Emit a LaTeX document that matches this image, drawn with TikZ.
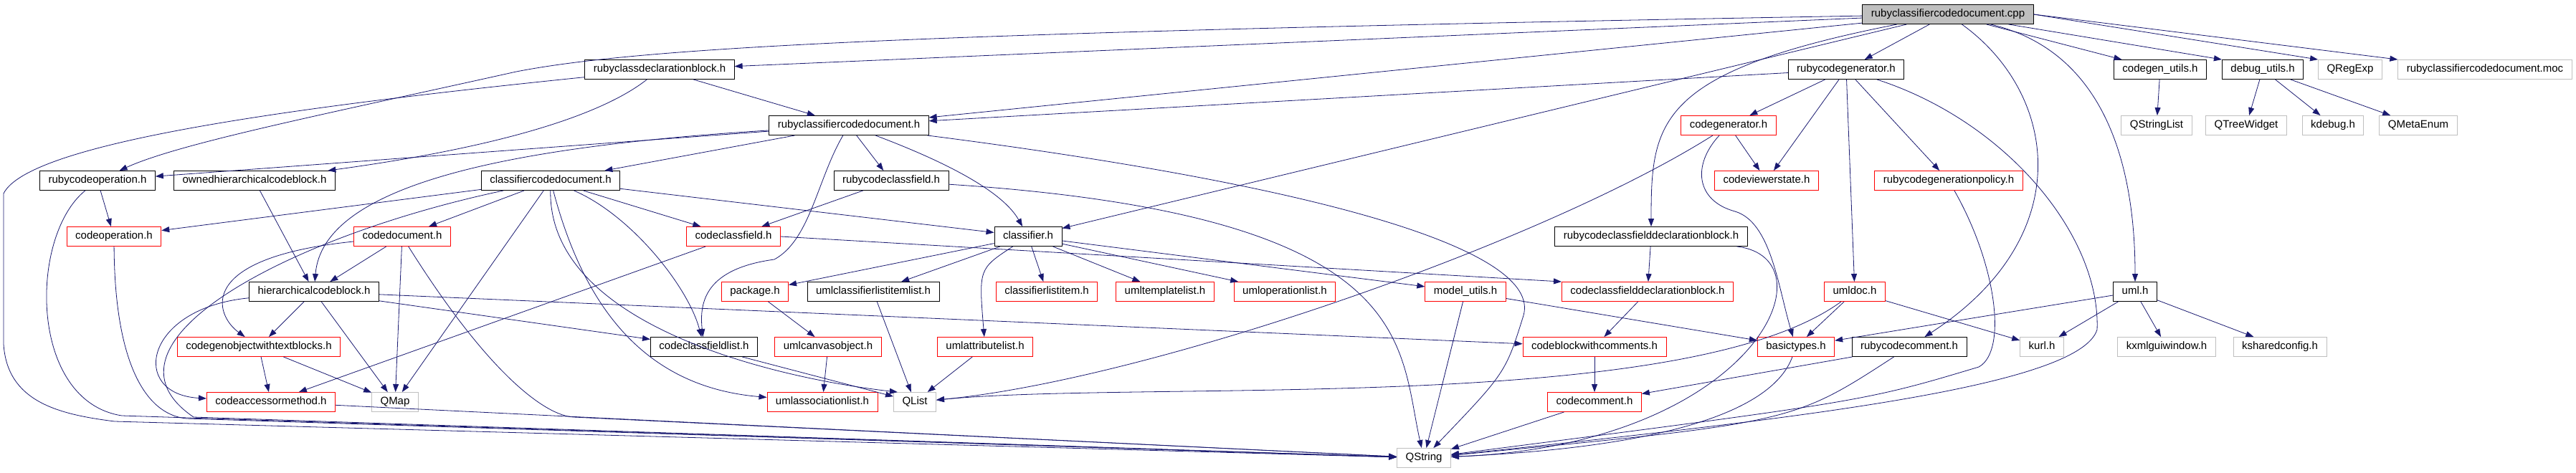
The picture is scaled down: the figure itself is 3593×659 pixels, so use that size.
\documentclass[tikz,border=0pt]{standalone}
\usepackage{fontspec}
\setmainfont{Liberation Sans}
\usepackage{tikz}
\usetikzlibrary{arrows.meta}
\definecolor{incblue}{HTML}{191970}
\definecolor{sysgray}{HTML}{BFBFBF}
\begin{document}
\begin{tikzpicture}[x=1pt,y=1pt,
	hdr/.style={rectangle,draw=black,line width=0.9pt,minimum height=27pt,inner xsep=12pt,inner ysep=2pt,text height=11pt,text depth=3.5pt,font=\fontsize{15}{18}\selectfont},
	hdrtrunc/.style={hdr,draw=red},
	hdrsys/.style={hdr,draw=sysgray},
	hdrroot/.style={hdr,fill=sysgray},
	inc/.style={draw=incblue,line width=0.8pt,-{Triangle[length=11pt,width=8pt]}}]
	\useasboundingbox (0,0) rectangle (3593,-659);
		\node[hdrroot] (cpp) at (2717,-20) {rubyclassifiercodedocument.cpp};
		\node[hdr] (rcdb) at (920,-97) {rubyclassdeclarationblock.h};
		\node[hdr] (rcg) at (2575,-97) {rubycodegenerator.h};
		\node[hdr] (cgu) at (3013,-97) {codegen\_utils.h};
		\node[hdr] (dbu) at (3156,-97) {debug\_utils.h};
		\node[hdrsys] (qre) at (3278,-97) {QRegExp};
		\node[hdrsys] (moc) at (3466,-97) {rubyclassifiercodedocument.moc};
		\node[hdr] (rcdh) at (1184,-175) {rubyclassifiercodedocument.h};
		\node[hdrtrunc] (cgen) at (2411,-175) {codegenerator.h};
		\node[hdrsys] (qsl) at (3008,-175) {QStringList};
		\node[hdrsys] (qtw) at (3133,-175) {QTreeWidget};
		\node[hdrsys] (kdbg) at (3254,-175) {kdebug.h};
		\node[hdrsys] (qme) at (3373,-175) {QMetaEnum};
		\node[hdr] (rco) at (136,-252) {rubycodeoperation.h};
		\node[hdr] (ohcb) at (355,-252) {ownedhierarchicalcodeblock.h};
		\node[hdr] (ccd) at (768,-252) {classifiercodedocument.h};
		\node[hdr] (rccf) at (1243,-252) {rubycodeclassfield.h};
		\node[hdrtrunc] (cvs) at (2464,-252) {codeviewerstate.h};
		\node[hdrtrunc] (rcgp) at (2718,-252) {rubycodegenerationpolicy.h};
		\node[hdrtrunc] (cop) at (159,-330) {codeoperation.h};
		\node[hdrtrunc] (cdoc) at (561,-330) {codedocument.h};
		\node[hdrtrunc] (ccf) at (1023,-330) {codeclassfield.h};
		\node[hdr] (cls) at (1434,-330) {classifier.h};
		\node[hdr] (rccfdb) at (2303,-330) {rubycodeclassfielddeclarationblock.h};
		\node[hdr] (hcb) at (438,-407) {hierarchicalcodeblock.h};
		\node[hdrtrunc] (pkg) at (1053,-407) {package.h};
		\node[hdr] (ucli) at (1218,-407) {umlclassifierlistitemlist.h};
		\node[hdrtrunc] (cli) at (1460,-407) {classifierlistitem.h};
		\node[hdrtrunc] (utl) at (1625,-407) {umltemplatelist.h};
		\node[hdrtrunc] (uol) at (1792,-407) {umloperationlist.h};
		\node[hdrtrunc] (mu) at (2044,-407) {model\_utils.h};
		\node[hdrtrunc] (ccfdb) at (2298,-407) {codeclassfielddeclarationblock.h};
		\node[hdrtrunc] (udoc) at (2587,-407) {umldoc.h};
		\node[hdr] (uml) at (2978,-407) {uml.h};
		\node[hdrtrunc] (cgo) at (361,-484) {codegenobjectwithtextblocks.h};
		\node[hdr] (ccfl) at (982,-484) {codeclassfieldlist.h};
		\node[hdrtrunc] (uco) at (1155,-484) {umlcanvasobject.h};
		\node[hdrtrunc] (ual) at (1374,-484) {umlattributelist.h};
		\node[hdrtrunc] (cbwc) at (2224,-484) {codeblockwithcomments.h};
		\node[hdrtrunc] (bt) at (2505,-484) {basictypes.h};
		\node[hdr] (rcc) at (2663,-484) {rubycodecomment.h};
		\node[hdrsys] (kurl) at (2848,-484) {kurl.h};
		\node[hdrsys] (kxg) at (3022,-484) {kxmlguiwindow.h};
		\node[hdrsys] (ksc) at (3180,-484) {ksharedconfig.h};
		\node[hdrtrunc] (cam) at (378,-561) {codeaccessormethod.h};
		\node[hdrsys] (qmap) at (551,-561) {QMap};
		\node[hdrtrunc] (uasl) at (1147,-561) {umlassociationlist.h};
		\node[hdrsys] (qlist) at (1276,-561) {QList};
		\node[hdrtrunc] (ccom) at (2224,-561) {codecomment.h};
		\node[hdrsys] (qstr) at (1986,-639) {QString};
		\draw[inc] (cpp) -- (rcdb);
		\draw[inc] (cpp) -- (rcdh);
		\draw[inc] (cpp) .. controls (1300,-45) and (900,-65) .. (720,-100) .. controls (450,-160) and (250,-200) .. (rco);
		\draw[inc] (cpp) -- (cls);
		\draw[inc] (cpp) .. controls (2310,-100) and (2303,-170) .. (rccfdb);
		\draw[inc] (cpp) -- (rcg);
		\draw[inc] (cpp) .. controls (2870,-130) and (2900,-330) .. (rcc);
		\draw[inc] (cpp) .. controls (2930,-70) and (2978,-220) .. (uml);
		\draw[inc] (cpp) -- (cgu);
		\draw[inc] (cpp) -- (dbu.north west);
		\draw[inc] (cpp.east) -- (qre.north west);
		\draw[inc] (cpp.east) -- (moc.north west);
		\draw[inc] (rcdb) -- (rcdh);
		\draw[inc] (rcdb) .. controls (840,-160) and (700,-205) .. (ohcb);
		\draw[inc] (rcdb) .. controls (400,-150) and (40,-200) .. (5,-270) -- (5,-480) .. controls (10,-560) and (80,-578) .. (160,-588) -- (qstr);
		\draw[inc] (rcdh) -- (rco);
		\draw[inc] (rcdh) .. controls (700,-205) and (450,-260) .. (hcb);
		\draw[inc] (rcdh) -- (ccd);
		\draw[inc] (rcdh) -- (rccf);
		\draw[inc] (rcdh) .. controls (1330,-230) and (1400,-270) .. (cls);
		\draw[inc] (rcdh) .. controls (1140,-250) and (1130,-335) .. (1080,-362) .. controls (985,-375) and (975,-420) .. (ccfl);
		\draw[inc] (rcdh) .. controls (1850,-260) and (2150,-350) .. (2125,-440) .. controls (2100,-520) .. (qstr);
		\draw[inc] (ccd) -- (cop);
		\draw[inc] (ccd) -- (cdoc);
		\draw[inc] (ccd) -- (qmap);
		\draw[inc] (ccd) -- (ccf);
		\draw[inc] (ccd) -- (cls);
		\draw[inc] (ccd) .. controls (880,-300) and (960,-400) .. (ccfl);
		\draw[inc] (ccd) .. controls (815,-430) and (900,-540) .. (uasl);
		\draw[inc] (ccd) .. controls (765,-460) and (1100,-530) .. (qlist.150);
		\draw[inc] (ccd) .. controls (400,-330) and (120,-480) .. (270,-582) -- (qstr);
		\draw[inc] (rccf) -- (ccf);
		\draw[inc] (rccf) .. controls (1980,-300) and (1950,-480) .. (qstr);
		\draw[inc] (rco) -- (cop);
		\draw[inc] (rco) .. controls (40,-330) and (40,-560) .. (170,-580) -- (qstr);
		\draw[inc] (ohcb) -- (hcb);
		\draw[inc] (cop) .. controls (160,-500) and (200,-578) .. (260,-584) -- (qstr);
		\draw[inc] (cdoc) -- (hcb);
		\draw[inc] (cdoc) .. controls (270,-360) and (300,-440) .. (cgo);
		\draw[inc] (cdoc) -- (qmap);
		\draw[inc] (cdoc) .. controls (680,-520) and (760,-580) .. (800,-582) -- (qstr);
		\draw[inc] (hcb) -- (cgo);
		\draw[inc] (hcb) -- (qmap);
		\draw[inc] (hcb) .. controls (200,-430) and (180,-550) .. (cam);
		\draw[inc] (hcb) -- (ccfl);
		\draw[inc] (hcb) -- (cbwc);
		\draw[inc] (cgo) -- (cam);
		\draw[inc] (cgo) -- (qmap);
		\draw[inc] (cam) -- (qstr);
		\draw[inc] (ccf) -- (cam);
		\draw[inc] (ccf.east) -- (ccfdb.north west);
		\draw[inc] (cls) -- (pkg);
		\draw[inc] (cls) -- (ucli);
		\draw[inc] (cls) .. controls (1365,-375) .. (ual);
		\draw[inc] (cls) -- (cli);
		\draw[inc] (cls) -- (utl);
		\draw[inc] (cls) -- (uol);
		\draw[inc] (cls) -- (mu);
		\draw[inc] (pkg) -- (uco);
		\draw[inc] (ucli) -- (qlist);
		\draw[inc] (uco) -- (uasl);
		\draw[inc] (ual) -- (qlist);
		\draw[inc] (ccfl) -- (qlist);
		\draw[inc] (mu) -- (qstr);
		\draw[inc] (mu) -- (bt);
		\draw[inc] (cgen) -- (cvs);
		\draw[inc] (cgen) .. controls (2360,-230) and (2365,-280) .. (2420,-295) .. controls (2470,-310) and (2480,-400) .. (bt);
		\draw[inc] (cgen) .. controls (2150,-340) and (1600,-530) .. (qlist);
		\draw[inc] (rcg) -- (cgen);
		\draw[inc] (rcg) -- (cvs);
		\draw[inc] (rcg) -- (udoc);
		\draw[inc] (rcg) -- (rcgp);
		\draw[inc] (rcg) -- (rcdh);
		\draw[inc] (rcg) .. controls (2800,-170) and (2930,-330) .. (2925,-460) .. controls (2900,-540) and (2500,-585) .. (qstr);
		\draw[inc] (rcgp) .. controls (2785,-370) and (2800,-490) .. (2760,-512) .. controls (2600,-560) .. (qstr);
		\draw[inc] (rccfdb) -- (ccfdb);
		\draw[inc] (rccfdb) .. controls (2560,-360) and (2450,-620) .. (qstr);
		\draw[inc] (ccfdb) -- (cbwc);
		\draw[inc] (udoc) -- (bt);
		\draw[inc] (udoc) -- (kurl);
		\draw[inc] (udoc) .. controls (2350,-580) and (1600,-530) .. (qlist);
		\draw[inc] (cbwc) -- (ccom);
		\draw[inc] (bt) .. controls (2470,-580) and (2300,-625) .. (qstr);
		\draw[inc] (rcc) -- (ccom);
		\draw[inc] (rcc) .. controls (2500,-590) .. (qstr);
		\draw[inc] (ccom) -- (qstr);
		\draw[inc] (uml) -- (bt);
		\draw[inc] (uml) -- (kurl);
		\draw[inc] (uml) -- (kxg);
		\draw[inc] (uml) -- (ksc);
		\draw[inc] (cgu) -- (qsl);
		\draw[inc] (dbu) -- (qtw);
		\draw[inc] (dbu) -- (kdbg);
		\draw[inc] (dbu) -- (qme);
\end{tikzpicture}
\end{document}
